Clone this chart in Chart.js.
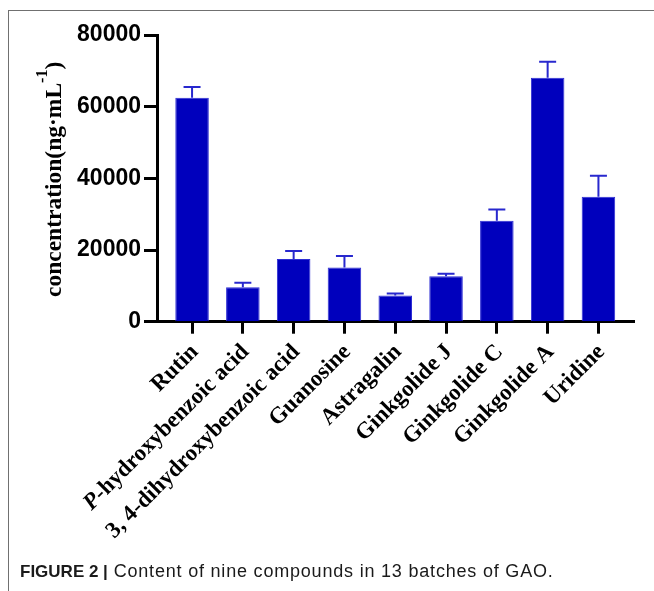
<!DOCTYPE html>
<html>
<head>
<meta charset="utf-8">
<script src="https://cdn.jsdelivr.net/npm/chart.js@4/dist/chart.umd.min.js"></script>
<style>
  html, body { margin: 0; padding: 0; background: #fff; }
  #wrap { position: relative; width: 654px; height: 591px; overflow: hidden; }
  #frame { position: absolute; left: 8px; top: 10px; right: -2px; bottom: -2px;
           border-top: 1px solid #707070; border-left: 1px solid #707070; }
  canvas { position: absolute; left: 0; top: 0; }
  #caption { position: absolute; left: 20px; top: 561px; white-space: nowrap;
             font-family: 'Liberation Sans', Arial, sans-serif; font-size: 18px; letter-spacing: 0.8px; color: #1a1a1a; }
  #caption b { font-weight: bold; font-size: 17px; letter-spacing: 0; }
</style>
</head>
<body>
<div id="wrap">
  <div id="frame"></div>
  <canvas id="chart" width="654" height="591"></canvas>
  <div id="caption"><b>FIGURE 2 |</b> Content of nine compounds in 13 batches of GAO.</div>
</div>
<script>
// Compounds and their mean concentration (ng·mL-1) with the upper error (SD)
const categories = ['Rutin', 'P-hydroxybenzoic acid', '3, 4-dihydroxybenzoic acid', 'Guanosine',
                    'Astragalin', 'Ginkgolide J', 'Ginkgolide C', 'Ginkgolide A', 'Uridine'];
const concentrations = [62500, 9600, 17500, 15100, 7300, 12700, 28200, 68100, 34900];
const errors = [3000, 1300, 2200, 3200, 600, 650, 3100, 4450, 5850];
const yTicks = [0, 20000, 40000, 60000, 80000];

const BAR = 'rgb(0,0,189)';
const ERR = 'rgb(40,40,206)';

// Upward error whiskers with a cap, drawn on the chart's own scales
const errorBars = {
  id: 'errorBars',
  afterDatasetsDraw(chart) {
    const { ctx, scales: { x, y } } = chart;
    ctx.save();
    ctx.strokeStyle = ERR;
    ctx.lineWidth = 2;
    concentrations.forEach((v, i) => {
      const px = x.getPixelForValue(i);
      const y0 = y.getPixelForValue(v);
      const y1 = y.getPixelForValue(v + errors[i]);
      ctx.beginPath();
      ctx.moveTo(px, y0);
      ctx.lineTo(px, y1);
      ctx.moveTo(px - 8.5, y1);
      ctx.lineTo(px + 8.5, y1);
      ctx.stroke();
    });
    ctx.restore();
  }
};

// Slanted category labels (P in italic) and the vertical axis title with superscript
const textLayer = {
  id: 'textLayer',
  afterDraw(chart) {
    const { ctx, scales: { x, y } } = chart;
    const base = y.getPixelForValue(0);
    const font = 'bold 23px "Liberation Serif", "Times New Roman", serif';
    const fontIt = 'italic bold 23px "Liberation Serif", "Times New Roman", serif';
    ctx.save();
    ctx.fillStyle = '#000';
    categories.forEach((label, i) => {
      const px = x.getPixelForValue(i);
      ctx.save();
      ctx.translate(px + 7, base + 31);
      ctx.rotate(-Math.PI / 4);
      ctx.textAlign = 'right';
      ctx.textBaseline = 'alphabetic';
      if (label.startsWith('P-')) {
        const rest = label.slice(1);
        ctx.font = font;
        ctx.fillText(rest, 0, 0);
        const w = ctx.measureText(rest).width;
        ctx.font = fontIt;
        ctx.fillText('P', -w, 0);
      } else {
        ctx.font = font;
        ctx.fillText(label, 0, 0);
      }
      ctx.restore();
    });

    // axis title: concentration(ng·mL^-1)
    ctx.save();
    ctx.translate(61, 297);
    ctx.rotate(-Math.PI / 2);
    ctx.textAlign = 'left';
    ctx.textBaseline = 'alphabetic';
    const tFont = 'bold 23.5px "Liberation Serif", "Times New Roman", serif';
    const sFont = 'bold 16px "Liberation Serif", "Times New Roman", serif';
    let cx = 0;
    const main = 'concentration(ng\u00B7mL';
    ctx.font = tFont;
    ctx.fillText(main, cx, 0);
    cx += ctx.measureText(main).width;
    ctx.font = sFont;
    ctx.fillText('-1', cx, -14);
    cx += ctx.measureText('-1').width;
    ctx.font = tFont;
    ctx.fillText(')', cx, 0);
    ctx.restore();
    ctx.restore();
  }
};

new Chart(document.getElementById('chart'), {
  type: 'bar',
  data: {
    datasets: [{
      data: concentrations.map((v, i) => ({ x: i, y: v })),
      backgroundColor: BAR,
      borderColor: 'rgb(45,45,212)',
      borderWidth: 1,
      barPercentage: 0.66,
      categoryPercentage: 1
    }]
  },
  options: {
    responsive: false,
    animation: false,
    devicePixelRatio: 1,
    layout: { padding: { top: 35, right: 20, left: 0, bottom: 0 } },
    plugins: { legend: { display: false }, tooltip: { enabled: false } },
    scales: {
      x: {
        type: 'linear',
        offset: false,
        min: -0.69,
        max: 8.70,
        afterBuildTicks: s => { s.ticks = categories.map((_, i) => ({ value: i })); },
        afterFit: s => { s.height = 591 - 321.7; },
        ticks: { display: false },
        grid: { offset: false, drawOnChartArea: false, drawTicks: true, tickLength: 12, tickWidth: 3, tickColor: '#000' },
        border: { display: true, color: '#000', width: 3 }
      },
      y: {
        min: 0,
        max: 80000,
        afterBuildTicks: s => { s.ticks = yTicks.map(v => ({ value: v })); },
        afterFit: s => { s.width = 157; },
        ticks: {
          color: '#000',
          padding: 3,
          callback: v => String(v),
          font: { family: '"Liberation Sans", Arial, sans-serif', weight: 'bold', size: 23 }
        },
        grid: { drawOnChartArea: false, drawTicks: true, tickLength: 13, tickWidth: 3, tickColor: '#000' },
        border: { display: true, color: '#000', width: 3 }
      }
    }
  },
  plugins: [errorBars, textLayer]
});
</script>
</body>
</html>
